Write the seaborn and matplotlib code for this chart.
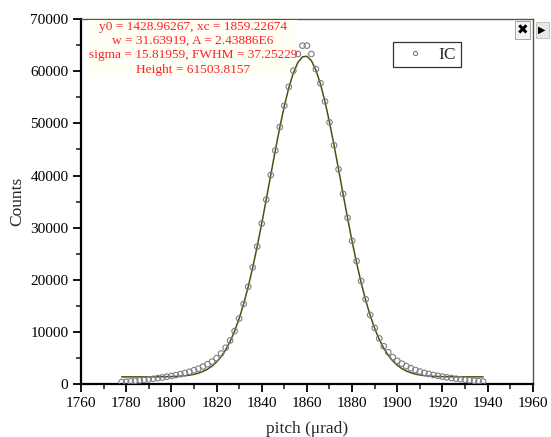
import matplotlib
matplotlib.use("Agg")
import matplotlib.pyplot as plt
import seaborn as sns
import pandas as pd
from matplotlib.lines import Line2D

# ---- data ----
pitch = [1778, 1780, 1782, 1784, 1786, 1788, 1790, 1792, 1794, 1796,
         1798, 1800, 1802, 1804, 1806, 1808, 1810, 1812, 1814, 1816,
         1818, 1820, 1822, 1824, 1826, 1828, 1830, 1832, 1834, 1836,
         1838, 1840, 1842, 1844, 1846, 1848, 1850, 1852, 1854, 1856,
         1858, 1860, 1862, 1864, 1866, 1868, 1870, 1872, 1874, 1876,
         1878, 1880, 1882, 1884, 1886, 1888, 1890, 1892, 1894, 1896,
         1898, 1900, 1902, 1904, 1906, 1908, 1910, 1912, 1914, 1916,
         1918, 1920, 1922, 1924, 1926, 1928, 1930, 1932, 1934, 1936,
         1938]
counts_ic = [450, 500, 590, 670, 760, 850, 950, 1060, 1180, 1310,
             1450, 1600, 1760, 1950, 2160, 2400, 2700, 3000, 3400, 3850,
             4350, 5000, 5900, 7000, 8400, 10200, 12600, 15400, 18700, 22400,
             26400, 30800, 35400, 40100, 44800, 49300, 53400, 57000, 60100, 63300,
             64900, 64900, 63300, 60400, 57700, 54200, 50200, 45800, 41200, 36500,
             31900, 27500, 23600, 19800, 16300, 13300, 10800, 8800, 7300, 6150,
             5200, 4500, 3950, 3480, 3080, 2740, 2450, 2200, 1980, 1790,
             1620, 1470, 1330, 1200, 1080, 970, 870, 780, 690, 610,
             530]
fit_counts = [1429, 1429, 1429, 1430, 1430, 1431, 1433, 1436, 1441, 1450,
              1463, 1485, 1518, 1568, 1643, 1754, 1914, 2143, 2462, 2900,
              3490, 4273, 5288, 6584, 8201, 10199, 12586, 15415, 18669, 22359,
              26431, 30809, 35416, 40128, 44789, 49236, 53308, 56838, 59661, 61666,
              62748, 62859, 61998, 60202, 57551, 54175, 50214, 45829, 41210, 36499,
              31855, 27408, 23257, 19481, 16129, 13201, 10710, 8625, 6924, 5558,
              4483, 3652, 3021, 2551, 2207, 1960, 1786, 1665, 1583, 1527,
              1491, 1468, 1453, 1443, 1437, 1434, 1432, 1431, 1430, 1429,
              1429]
fit_text = ["y0 = 1428.96267, xc = 1859.22674",
            "w = 31.63919, A = 2.43886E6",
            "sigma = 15.81959, FWHM = 37.25229",
            "Height = 61503.8157"]
x_ticks = [1760, 1780, 1800, 1820, 1840, 1860, 1880, 1900, 1920, 1940, 1960]
y_ticks = [0, 10000, 20000, 30000, 40000, 50000, 60000, 70000]

df = pd.DataFrame({"pitch": pitch, "IC": counts_ic, "fit": fit_counts})

sns.set_style("ticks")
plt.rcParams["font.family"] = ["Liberation Serif", "DejaVu Serif"]

fig = plt.figure(figsize=(5.51, 4.37), dpi=100)
ax = fig.add_axes([0.147, 0.1206, 0.820, 0.8359])

sns.lineplot(data=df, x="pitch", y="fit", ax=ax, color="#50500c", linewidth=1.1,
             zorder=6, legend=False)
sns.scatterplot(data=df, x="pitch", y="IC", ax=ax, marker="o", s=16,
                facecolor="none", edgecolor="#7c7c8c", linewidth=0.8, zorder=7,
                legend=False)

ax.set_xlim(1760, 1960)
ax.set_ylim(0, 70000)
ax.set_xticks(x_ticks)
ax.set_yticks(y_ticks)
ax.set_xticks([v + 10 for v in x_ticks[:-1]], minor=True)
ax.set_yticks([v + 5000 for v in y_ticks[:-1]], minor=True)
ax.tick_params(axis="both", which="major", direction="out", length=6, width=1.3,
               labelsize=11, colors="black", pad=3)
ax.tick_params(axis="both", which="minor", direction="out", length=3.5, width=1.2)
ax.tick_params(top=False, right=False)
for side in ["left", "bottom"]:
    ax.spines[side].set_linewidth(1.6)
    ax.spines[side].set_color("black")
for side in ["top", "right"]:
    ax.spines[side].set_visible(True)
    ax.spines[side].set_linewidth(1.0)
    ax.spines[side].set_color("#5a5a30")

ax.set_xlabel("pitch (\u03bcrad)", fontsize=12.5, labelpad=8)
ax.set_ylabel("Counts", fontsize=12.5, labelpad=4)

ax.text(0.248, 0.995, "\n".join(fit_text), transform=ax.transAxes,
        ha="center", va="top", fontsize=9.6, color="#ff2020", linespacing=1.25,
        bbox=dict(facecolor="#fffff6", edgecolor="none", pad=0.5), zorder=5)

handle = Line2D([], [], linestyle="none", marker="o", markersize=3,
                markerfacecolor="none", markeredgecolor="#7c7c8c",
                markeredgewidth=0.8)
leg = ax.legend([handle], ["IC"], loc="upper left", bbox_to_anchor=(0.69, 0.936),
                frameon=True, fancybox=False, fontsize=12.5, handlelength=2.1,
                handletextpad=0.3, borderpad=0.25, borderaxespad=0)
leg.get_frame().set_edgecolor("black")
leg.get_frame().set_linewidth(0.9)
leg.set_zorder(8)

# window controls drawn at the top-right corner
fig.text(0.949, 0.931, "\u2716", fontsize=10, ha="center", va="center",
         family="DejaVu Sans", color="black",
         bbox=dict(facecolor="#f4f4f4", edgecolor="#999999", pad=1.2, linewidth=0.6))
fig.text(0.984, 0.931, "\u25b6", fontsize=7, ha="center", va="center",
         family="DejaVu Sans", color="black",
         bbox=dict(facecolor="#e8e8e8", edgecolor="#bbbbbb", pad=2.0, linewidth=0.6))

fig.savefig("out.png", dpi=100)
